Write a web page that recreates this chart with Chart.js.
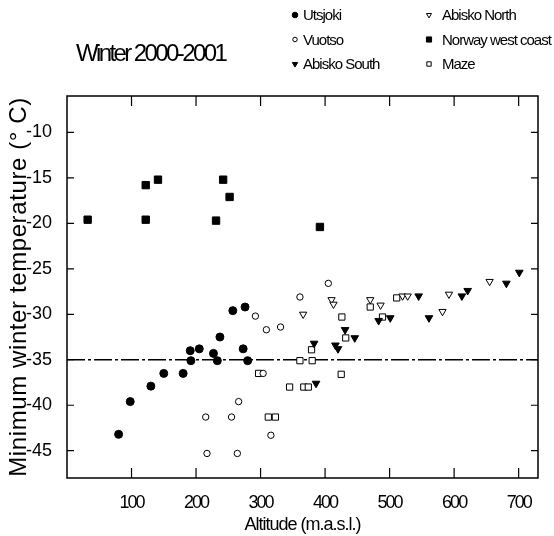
<!DOCTYPE html>
<html>
<head>
<meta charset="utf-8">
<script src="https://cdn.jsdelivr.net/npm/chart.js@4.4.0/dist/chart.umd.min.js"></script>
<style>
  html, body { margin: 0; padding: 0; background: #fff; }
</style>
</head>
<body>
<canvas id="chart" width="554" height="536"></canvas>
<script>
// altitude (m a.s.l.) and minimum winter temperature (deg C)
const utsjokiAlt = [80, 98, 130, 150, 180, 191, 192, 205, 227, 233, 237, 257, 276, 273, 280];
const utsjokiTemp = [-43.2, -39.6, -37.9, -36.5, -36.5, -34.0, -35.1, -33.8, -34.3, -35.1, -32.5, -29.6, -29.2, -33.8, -35.1];

const vuotsoAlt = [292, 309, 331, 361, 405, 304, 266, 215, 255, 316, 217, 264];
const vuotsoTemp = [-30.2, -31.7, -31.4, -28.1, -26.6, -36.5, -39.6, -41.3, -41.3, -43.3, -45.3, -45.3];

const abiskoSouthAlt = [383, 386, 416, 420, 431, 446, 483, 501, 545, 561, 612, 621, 681, 701];
const abiskoSouthTemp = [-33.2, -37.6, -33.4, -33.8, -31.7, -32.6, -30.7, -30.4, -28.0, -30.4, -28.0, -27.4, -26.6, -25.4];

const abiskoNorthAlt = [366, 410, 413, 470, 486, 520, 528, 582, 592, 655];
const abiskoNorthTemp = [-30.0, -28.4, -28.9, -28.4, -29.0, -28.0, -28.0, -29.7, -27.8, -26.4];

const norwayAlt = [32, 122, 122, 141, 231, 242, 252, 392];
const norwayTemp = [-19.6, -15.8, -19.6, -15.2, -19.7, -15.2, -17.1, -20.4];

const mazeAlt = [297, 312, 323, 345, 367, 374, 361, 380, 379, 426, 432, 425, 470, 489, 511];
const mazeTemp = [-36.5, -41.3, -41.3, -38.0, -38.0, -38.0, -35.1, -35.1, -33.9, -30.3, -32.6, -36.6, -29.2, -30.3, -28.2];

const refTemp = -35;
const altRange = [0, 730];
const tempRange = [-48, -6];

const FONT = '"Liberation Sans", Arial, sans-serif';

function pts(xs, ys) {
    return xs.map((x, i) => ({ x: x, y: ys[i] }));
}

const series = [
    { label: "Utsjoki", data: pts(utsjokiAlt, utsjokiTemp), style: "circle", fill: "#000", r: 4, rot: 0 },
    { label: "Vuotso", data: pts(vuotsoAlt, vuotsoTemp), style: "circle", fill: "#fff", r: 3.2, rot: 0 },
    { label: "Abisko South", data: pts(abiskoSouthAlt, abiskoSouthTemp), style: "triangle", fill: "#000", r: 4.4, rot: 180 },
    { label: "Abisko North", data: pts(abiskoNorthAlt, abiskoNorthTemp), style: "triangle", fill: "#fff", r: 4.2, rot: 180 },
    { label: "Norway west coast", data: pts(norwayAlt, norwayTemp), style: "rect", fill: "#000", r: 5.2, rot: 0 },
    { label: "Maze", data: pts(mazeAlt, mazeTemp), style: "rect", fill: "#fff", r: 4.4, rot: 0 },
];

// legend layout: two columns of three
const legendCols = [
    ["Utsjoki", "Vuotso", "Abisko South"],
    ["Abisko North", "Norway west coast", "Maze"],
];

const decorations = {
    id: "decorations",
    afterDraw(chart) {
        const { ctx, chartArea: a, scales: { x, y } } = chart;
        ctx.save();
        ctx.strokeStyle = "#000";
        ctx.lineWidth = 1.5;
        ctx.strokeRect(a.left, a.top, a.right - a.left, a.bottom - a.top);

        // inward tick marks on all four sides
        ctx.lineWidth = 1.2;
        ctx.beginPath();
        x.ticks.forEach(t => {
            if (t.value === 0) return;
            const px = x.getPixelForValue(t.value);
            ctx.moveTo(px, a.bottom); ctx.lineTo(px, a.bottom - 10);
            ctx.moveTo(px, a.top); ctx.lineTo(px, a.top + 10);
        });
        y.ticks.forEach(t => {
            const py = y.getPixelForValue(t.value);
            ctx.moveTo(a.left, py); ctx.lineTo(a.left + 7, py);
            ctx.moveTo(a.right, py); ctx.lineTo(a.right - 7, py);
        });
        ctx.stroke();

        // title
        ctx.fillStyle = "#000";
        ctx.textBaseline = "alphabetic";
        ctx.textAlign = "left";
        ctx.font = "24px " + FONT;
        ctx.letterSpacing = "-2.6px";
        ctx.fillText("Winter 2000-2001", 76, 61);

        // legend
        ctx.font = "15px " + FONT;
        ctx.letterSpacing = "-1px";
        ctx.textBaseline = "middle";
        const colX = [295, 429];
        const rowY = [15, 39.5, 64];
        legendCols.forEach((col, c) => {
            col.forEach((name, r) => {
                const s = series.find(d => d.label === name);
                ctx.fillStyle = s.fill;
                ctx.strokeStyle = "#000";
                ctx.lineWidth = 1;
                Chart.helpers.drawPoint(ctx, {
                    pointStyle: s.style,
                    radius: s.r * 0.7,
                    rotation: s.rot,
                    borderWidth: 1,
                }, colX[c], rowY[r]);
                ctx.fillStyle = "#000";
                ctx.fillText(name, colX[c] + (c === 0 ? 8 : 13), rowY[r] + 1);
            });
        });
        ctx.restore();
    },
};

const datasets = series.map(s => ({
    type: "scatter",
    label: s.label,
    data: s.data,
    pointStyle: s.style,
    pointRadius: s.r,
    pointRotation: s.rot,
    pointBackgroundColor: s.fill,
    pointBorderColor: "#000",
    pointBorderWidth: 1,
}));

datasets.push({
    type: "line",
    label: "reference",
    data: [{ x: altRange[0], y: refTemp }, { x: altRange[1], y: refTemp }],
    borderColor: "#000",
    borderWidth: 1.5,
    borderDash: [18, 3, 3, 3],
    pointRadius: 0,
    fill: false,
});

const chart = new Chart(document.getElementById("chart"), {
    data: { datasets: datasets },
    options: {
        responsive: false,
        animation: false,
        devicePixelRatio: 1,
        layout: { padding: { top: 96, right: 16, left: 0, bottom: 0 } },
        plugins: {
            legend: { display: false },
            tooltip: { enabled: false },
        },
        scales: {
            x: {
                type: "linear",
                min: altRange[0],
                max: altRange[1],
                grid: { display: false },
                border: { display: false },
                ticks: {
                    stepSize: 100,
                    includeBounds: false,
                    padding: 6,
                    color: "#000",
                    font: { family: FONT, size: 18 },
                    callback: v => (v === 0 ? "" : v),
                },
                title: {
                    display: true,
                    text: "Altitude (m.a.s.l.)",
                    color: "#000",
                    font: { family: FONT, size: 18 },
                    padding: { top: 0, bottom: 0 },
                },
                afterFit: s => { s.height = 58; },
            },
            y: {
                type: "linear",
                min: tempRange[0],
                max: tempRange[1],
                grid: { display: false },
                border: { display: false },
                ticks: {
                    stepSize: 5,
                    includeBounds: false,
                    padding: 7,
                    color: "#000",
                    font: { family: FONT, size: 18 },
                },
                title: {
                    display: true,
                    text: "Minimum winter temperature (° C)",
                    color: "#000",
                    font: { family: FONT, size: 24 },
                    padding: { top: 5, bottom: 0 },
                },
                afterFit: s => { s.width = 67; },
            },
        },
    },
    plugins: [decorations],
});

// the figure's lettering is set tight on the x axis and loose on the y title
function withSpacing(scale, method, spacing) {
    const orig = scale[method];
    scale[method] = function (area) {
        const ctx = this.ctx;
        ctx.save();
        ctx.letterSpacing = spacing;
        orig.call(this, area);
        ctx.restore();
    };
}
withSpacing(chart.scales.x, "drawLabels", "-2px");
withSpacing(chart.scales.x, "drawTitle", "-1px");
withSpacing(chart.scales.y, "drawTitle", "0.6px");
chart.draw();
</script>
</body>
</html>
